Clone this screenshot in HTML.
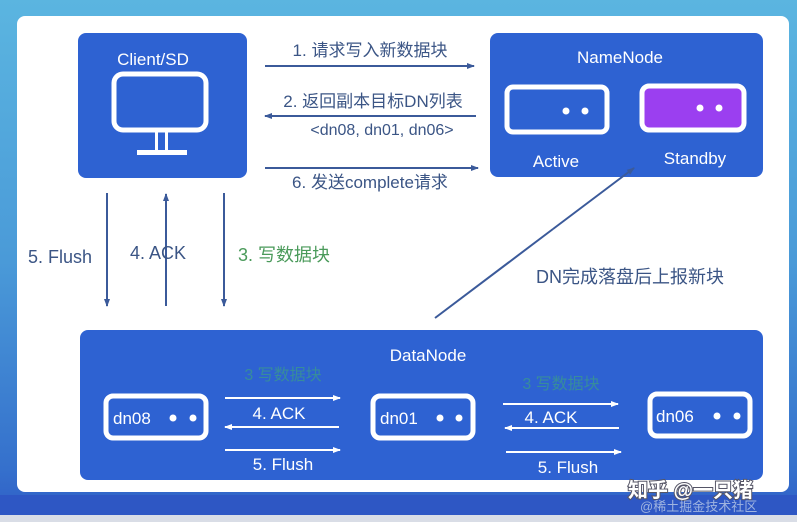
<!DOCTYPE html>
<html><head><meta charset="utf-8"><style>
html,body{margin:0;padding:0}
body{width:797px;height:522px;overflow:hidden;background:linear-gradient(180deg,#5bb5e0 0%,#4a9ad8 50%,#3570cc 90%,#2f5cc6 100%)}
svg{display:block}
text{font-family:"Liberation Sans","Noto Sans CJK SC",sans-serif}
</style></head><body>
<svg width="797" height="522" viewBox="0 0 797 522">
<defs>
<marker id="a" markerWidth="8" markerHeight="8" refX="7" refY="4" orient="auto" markerUnits="userSpaceOnUse"><path d="M0,1 L8,4 L0,7 z" fill="#3b5a9a"/></marker>
<marker id="w" markerWidth="8" markerHeight="8" refX="7" refY="4" orient="auto" markerUnits="userSpaceOnUse"><path d="M0,1 L8,4 L0,7 z" fill="#fff"/></marker>
</defs>
<rect x="0" y="495" width="797" height="20" fill="#2e57c4"/>
<rect x="0" y="515" width="797" height="7" fill="#d9dde6"/>
<rect x="17" y="16" width="772" height="476" rx="8" fill="#fff"/>
<!-- Client -->
<rect x="78" y="33" width="169" height="145" rx="8" fill="#2e62d2"/>
<text x="153" y="65" font-size="17" fill="#fff" text-anchor="middle">Client/SD</text>
<rect x="114" y="74" width="92" height="56" rx="9" fill="none" stroke="#fff" stroke-width="5"/>
<rect x="155" y="130" width="3" height="22" fill="#fff"/><rect x="165" y="130" width="3" height="22" fill="#fff"/>
<rect x="137" y="150" width="50" height="5" fill="#fff"/>
<!-- NameNode -->
<rect x="490" y="33" width="273" height="144" rx="8" fill="#2e62d2"/>
<text x="620" y="63" font-size="17" fill="#fff" text-anchor="middle">NameNode</text>
<rect x="507" y="87" width="100" height="45" rx="6" fill="#2e62d2" stroke="#fff" stroke-width="5"/>
<circle cx="566" cy="111" r="3.5" fill="#fff"/><circle cx="585" cy="111" r="3.5" fill="#fff"/>
<rect x="642" y="86" width="102" height="44" rx="7" fill="#9b3ff0" stroke="#fff" stroke-width="5"/>
<circle cx="700" cy="108" r="3.5" fill="#fff"/><circle cx="719" cy="108" r="3.5" fill="#fff"/>
<text x="556" y="167" font-size="17" fill="#fff" text-anchor="middle">Active</text>
<text x="695" y="164" font-size="17" fill="#fff" text-anchor="middle">Standby</text>
<!-- top arrows -->
<text x="370" y="56" font-size="17" fill="#3b5585" text-anchor="middle">1. 请求写入新数据块</text>
<line x1="265" y1="66" x2="474" y2="66" stroke="#3b5a9a" stroke-width="2" marker-end="url(#a)"/>
<text x="373" y="107" font-size="17" fill="#3b5585" text-anchor="middle">2. 返回副本目标DN列表</text>
<line x1="476" y1="116" x2="265" y2="116" stroke="#3b5a9a" stroke-width="2" marker-end="url(#a)"/>
<text x="382" y="135" font-size="16" fill="#3b5585" text-anchor="middle">&lt;dn08, dn01, dn06&gt;</text>
<line x1="265" y1="168" x2="478" y2="168" stroke="#3b5a9a" stroke-width="2" marker-end="url(#a)"/>
<text x="370" y="188" font-size="17" fill="#3b5585" text-anchor="middle">6. 发送complete请求</text>
<!-- verticals -->
<line x1="107" y1="193" x2="107" y2="306" stroke="#3b5a9a" stroke-width="2" marker-end="url(#a)"/>
<line x1="166" y1="306" x2="166" y2="194" stroke="#3b5a9a" stroke-width="2" marker-end="url(#a)"/>
<line x1="224" y1="193" x2="224" y2="306" stroke="#3b5a9a" stroke-width="2" marker-end="url(#a)"/>
<text x="28" y="263" font-size="18" fill="#3b5585">5. Flush</text>
<text x="130" y="259" font-size="18" fill="#3b5585">4. ACK</text>
<text x="238" y="261" font-size="18" fill="#4a9a5a">3. 写数据块</text>
<line x1="435" y1="318" x2="553" y2="229" stroke="#3b5a9a" stroke-width="2"/>
<line x1="553" y1="229" x2="634" y2="168" stroke="#3b5a9a" stroke-width="2" marker-end="url(#a)"/>
<text x="536" y="283" font-size="18" fill="#3b5585">DN完成落盘后上报新块</text>
<!-- DataNode -->
<rect x="80" y="330" width="683" height="150" rx="8" fill="#2e62d2"/>
<text x="428" y="361" font-size="17" fill="#fff" text-anchor="middle">DataNode</text>
<g fill="#2e62d2" stroke="#fff" stroke-width="5">
<rect x="106" y="396" width="100" height="42" rx="7"/>
<rect x="373" y="396" width="100" height="42" rx="7"/>
<rect x="650" y="394" width="100" height="42" rx="7"/>
</g>
<text x="113" y="424" font-size="17" fill="#fff">dn08</text>
<circle cx="173" cy="418" r="3.5" fill="#fff"/><circle cx="193" cy="418" r="3.5" fill="#fff"/>
<text x="380" y="424" font-size="17" fill="#fff">dn01</text>
<circle cx="440" cy="418" r="3.5" fill="#fff"/><circle cx="459" cy="418" r="3.5" fill="#fff"/>
<text x="656" y="422" font-size="17" fill="#fff">dn06</text>
<circle cx="717" cy="416" r="3.5" fill="#fff"/><circle cx="737" cy="416" r="3.5" fill="#fff"/>
<g font-size="16" fill="#3a9a8a" text-anchor="middle" opacity="0.75">
<text x="283" y="380">3 写数据块</text><text x="561" y="389">3 写数据块</text></g>
<g stroke="#fff" stroke-width="2">
<line x1="225" y1="398" x2="340" y2="398" marker-end="url(#w)"/>
<line x1="339" y1="427" x2="225" y2="427" marker-end="url(#w)"/>
<line x1="225" y1="450" x2="340" y2="450" marker-end="url(#w)"/>
<line x1="503" y1="404" x2="618" y2="404" marker-end="url(#w)"/>
<line x1="619" y1="428" x2="505" y2="428" marker-end="url(#w)"/>
<line x1="506" y1="452" x2="621" y2="452" marker-end="url(#w)"/>
</g>
<g font-size="17" fill="#fff" text-anchor="middle">
<text x="279" y="419">4. ACK</text><text x="283" y="470">5. Flush</text>
<text x="551" y="423">4. ACK</text><text x="568" y="473">5. Flush</text>
</g>
<text x="628" y="497" font-size="20" fill="#fff" font-weight="bold" stroke="#556" stroke-width="2" paint-order="stroke">知乎 @一只猪</text>
<text x="640" y="511" font-size="13" fill="#9fb4e0">@稀土掘金技术社区</text>
</svg>
</body></html>
